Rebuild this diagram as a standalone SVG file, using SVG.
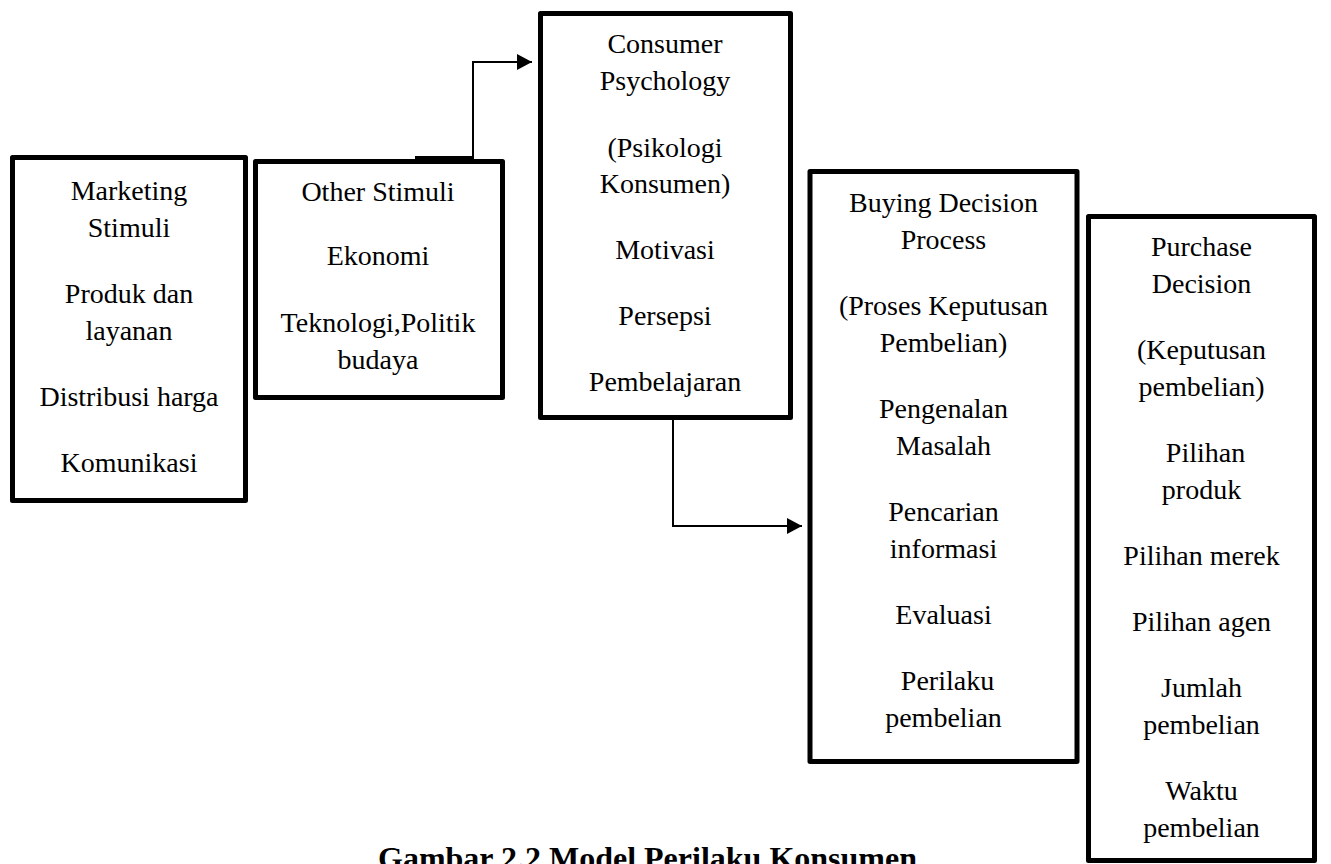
<svg xmlns="http://www.w3.org/2000/svg" width="1331" height="864" viewBox="0 0 1331 864">
<defs>
<style>
.box{fill:#fff;stroke:#000;stroke-width:5;stroke-linejoin:round}
.t{font-family:"Liberation Serif","Times New Roman",serif;font-size:28px;fill:#000;text-anchor:middle}
.cap{font-family:"Liberation Serif","Times New Roman",serif;font-size:32px;font-weight:bold;fill:#000}
.ln{fill:none;stroke:#000;stroke-width:2}
</style>
<marker id="ah" markerWidth="16" markerHeight="16" refX="15" refY="8" orient="auto" markerUnits="userSpaceOnUse">
<path d="M0,0 L15,8 L0,16 Z" fill="#000"/>
</marker>
</defs>
<rect width="1331" height="864" fill="#fff"/>
<g id="marketing-stimuli">
<rect class="box" x="12.5" y="157.5" width="233" height="343"/>
<text class="t" x="129" y="200">Marketing</text>
<text class="t" x="129" y="237">Stimuli</text>
<text class="t" x="129" y="303">Produk dan</text>
<text class="t" x="129" y="340">layanan</text>
<text class="t" x="129" y="406">Distribusi harga</text>
<text class="t" x="129" y="472">Komunikasi</text>
</g>
<g id="other-stimuli">
<rect class="box" x="255.5" y="161.5" width="247" height="236"/>
<text class="t" x="378" y="201">Other Stimuli</text>
<text class="t" x="378" y="265">Ekonomi</text>
<text class="t" x="378" y="332">Teknologi,Politik</text>
<text class="t" x="378" y="369">budaya</text>
</g>
<g id="consumer-psychology">
<rect class="box" x="540.5" y="13.5" width="250" height="404"/>
<text class="t" x="665" y="53">Consumer</text>
<text class="t" x="665" y="90">Psychology</text>
<text class="t" x="665" y="157">(Psikologi</text>
<text class="t" x="665" y="193">Konsumen)</text>
<text class="t" x="665" y="259">Motivasi</text>
<text class="t" x="665" y="325">Persepsi</text>
<text class="t" x="665" y="391">Pembelajaran</text>
</g>
<g id="buying-decision-process">
<rect class="box" x="810" y="171.5" width="267" height="590"/>
<text class="t" x="943.5" y="212">Buying Decision</text>
<text class="t" x="943.5" y="249">Process</text>
<text class="t" x="943.5" y="315">(Proses Keputusan</text>
<text class="t" x="943.5" y="352">Pembelian)</text>
<text class="t" x="943.5" y="418">Pengenalan</text>
<text class="t" x="943.5" y="455">Masalah</text>
<text class="t" x="943.5" y="521">Pencarian</text>
<text class="t" x="943.5" y="558">informasi</text>
<text class="t" x="943.5" y="624">Evaluasi</text>
<text class="t" x="947.5" y="690">Perilaku</text>
<text class="t" x="943.5" y="727">pembelian</text>
</g>
<g id="purchase-decision">
<rect class="box" x="1088.5" y="216.5" width="226" height="644"/>
<text class="t" x="1201.5" y="256">Purchase</text>
<text class="t" x="1201.5" y="293">Decision</text>
<text class="t" x="1201.5" y="359">(Keputusan</text>
<text class="t" x="1201.5" y="396">pembelian)</text>
<text class="t" x="1205.5" y="462">Pilihan</text>
<text class="t" x="1201.5" y="499">produk</text>
<text class="t" x="1201.5" y="565">Pilihan merek</text>
<text class="t" x="1201.5" y="631">Pilihan agen</text>
<text class="t" x="1201.5" y="697">Jumlah</text>
<text class="t" x="1201.5" y="734">pembelian</text>
<text class="t" x="1201.5" y="800">Waktu</text>
<text class="t" x="1201.5" y="837">pembelian</text>
</g>
<g id="connectors">
<line x1="415" y1="158" x2="474" y2="158" stroke="#000" stroke-width="4"/>
<polyline class="ln" points="473,158 473,62 532,62" marker-end="url(#ah)"/>
<polyline class="ln" points="673,420 673,526 802,526" marker-end="url(#ah)"/>
</g>
<text class="cap" x="378" y="869">Gambar 2.2 Model Perilaku Konsumen</text>
</svg>
